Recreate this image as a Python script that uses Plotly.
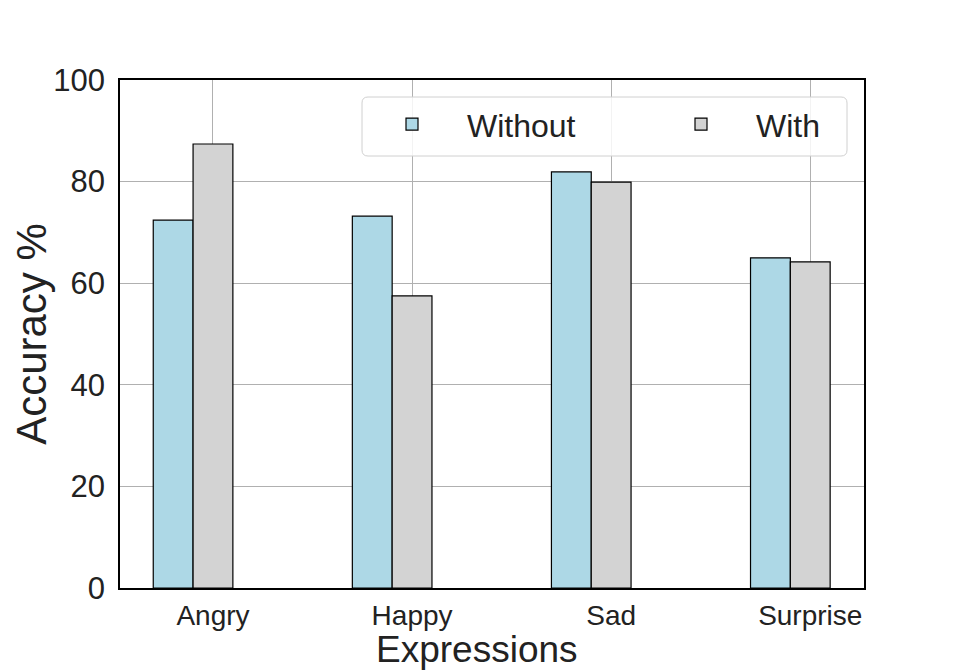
import plotly.graph_objects as go

categories = ["Angry", "Happy", "Sad", "Surprise"]
without_vals = [72.4, 73.2, 81.9, 65.0]
with_vals = [87.4, 57.5, 79.9, 64.2]
y_ticks = [0, 20, 40, 60, 80, 100]

FONT = "Liberation Sans, Arial, sans-serif"

# figure sized to fit the page (8px body margin)
W, H = 952, 664
L, R, T, B = 112, 96, 72, 84
PW, PH = W - L - R, H - T - B


def px_to_paper_x(fx):
    return (fx - L) / PW


def px_to_paper_y(fy):
    return (H - B - fy) / PH


def rounded_rect(x0, y0, x1, y1, r):
    X = px_to_paper_x
    Y = px_to_paper_y
    return (f"M {X(x0 + r)} {Y(y0)} L {X(x1 - r)} {Y(y0)} Q {X(x1)} {Y(y0)} {X(x1)} {Y(y0 + r)} "
            f"L {X(x1)} {Y(y1 - r)} Q {X(x1)} {Y(y1)} {X(x1 - r)} {Y(y1)} "
            f"L {X(x0 + r)} {Y(y1)} Q {X(x0)} {Y(y1)} {X(x0)} {Y(y1 - r)} "
            f"L {X(x0)} {Y(y0 + r)} Q {X(x0)} {Y(y0)} {X(x0 + r)} {Y(y0)} Z")


fig = go.Figure()
fig.add_trace(go.Bar(x=categories, y=without_vals, name="Without",
                     marker=dict(color="#add8e6", line=dict(color="black", width=1.2)),
                     width=0.2, offset=-0.3))
fig.add_trace(go.Bar(x=categories, y=with_vals, name="With",
                     marker=dict(color="#d3d3d3", line=dict(color="black", width=1.2)),
                     width=0.2, offset=-0.1))

fig.add_shape(type="path", xref="paper", yref="paper", layer="above",
              path=rounded_rect(354, 89, 839, 148, 6),
              fillcolor="rgba(255,255,255,0.85)", line=dict(color="#d0d0d0", width=1))

fig.add_annotation(text="Expressions", xref="paper", yref="paper",
                   x=px_to_paper_x(469), y=px_to_paper_y(641),
                   xanchor="center", yanchor="middle", showarrow=False,
                   borderpad=0,
                   font=dict(size=37, family=FONT, color="#222222"))

fig.update_layout(
    width=W, height=H,
    margin=dict(l=L, r=R, t=T, b=B, autoexpand=False),
    plot_bgcolor="white", paper_bgcolor="white",
    barmode="overlay",
    font=dict(family=FONT, color="#222222"),
    legend=dict(orientation="h", x=px_to_paper_x(349), y=0.967, xanchor="left", yanchor="top",
                bgcolor="rgba(0,0,0,0)", borderwidth=0,
                font=dict(size=32, family=FONT), itemwidth=100,
                traceorder="normal", entrywidthmode="pixels", entrywidth=174),
    xaxis=dict(type="category", range=[-0.467, 3.27], automargin=False,
               showgrid=True, gridcolor="#b0b0b0", gridwidth=1,
               showline=True, linecolor="black", linewidth=1.5, mirror=True,
               ticks="", tickfont=dict(size=28, family=FONT), ticklabelstandoff=2),
    yaxis=dict(range=[0, 100], tickvals=y_ticks, automargin=False,
               showgrid=True, gridcolor="#b0b0b0", gridwidth=1,
               showline=True, linecolor="black", linewidth=1.5, mirror=True,
               ticks="", tickfont=dict(size=31, family=FONT), zeroline=False,
               ticklabelstandoff=7,
               title=dict(text="Accuracy %", font=dict(size=42, family=FONT), standoff=20)),
)

fig.write_html("out.html")
